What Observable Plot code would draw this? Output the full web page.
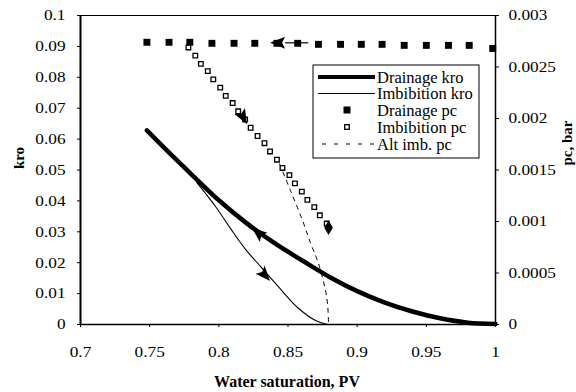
<!DOCTYPE html>
<html><head><meta charset="utf-8">
<script src="https://cdn.jsdelivr.net/npm/d3@7"></script>
<script src="https://cdn.jsdelivr.net/npm/@observablehq/plot@0.6"></script>
<style>
body{margin:0;background:#fff}
svg{display:block}
</style>
</head><body><div id="chart"></div>
<script>
// ---- data ----
const kroTicks = [0, 0.01, 0.02, 0.03, 0.04, 0.05, 0.06, 0.07, 0.08, 0.09, 0.1];
const kroTickLabels = ["0","0.01","0.02","0.03","0.04","0.05","0.06","0.07","0.08","0.09","0.1"];
const pcTicks = [0, 0.0005, 0.001, 0.0015, 0.002, 0.0025, 0.003];
const pcTickLabels = ["0","0.0005","0.001","0.0015","0.002","0.0025","0.003"];
const swTicks = [0.7, 0.75, 0.8, 0.85, 0.9, 0.95, 1];
const swTickLabels = ["0.7","0.75","0.8","0.85","0.9","0.95","1"];

const drainKroSw = [0.748, 0.76, 0.78, 0.80, 0.82, 0.84, 0.86, 0.88, 0.90, 0.92, 0.94, 0.96, 0.98, 1.0];
const drainKro   = [0.0628, 0.0574, 0.0487, 0.0402, 0.0328, 0.0264, 0.0208, 0.0154, 0.0108, 0.0071, 0.0042, 0.0020, 0.0006, 0.0002];

const imbKroSw = [0.784, 0.7976, 0.8084, 0.8193, 0.8301, 0.8424, 0.8569, 0.8699, 0.8786];
const imbKro   = [0.0460, 0.0382, 0.0311, 0.0243, 0.0188, 0.0126, 0.0055, 0.0013, 0.0];

const drainPcSw = [0.748, 0.764, 0.779, 0.795, 0.811, 0.826, 0.842, 0.857, 0.872, 0.888, 0.903, 0.918, 0.934, 0.950, 0.966, 0.981, 0.998];
const drainPc   = [0.00274, 0.00274, 0.00274, 0.00273, 0.00273, 0.00273, 0.00273, 0.00273, 0.00272, 0.00272, 0.00272, 0.00272, 0.00271, 0.00271, 0.00271, 0.00271, 0.00268];

const imbPcSw = [0.778, 0.783, 0.787, 0.792, 0.796, 0.801, 0.805, 0.810, 0.814, 0.819, 0.823, 0.828, 0.833, 0.837, 0.842, 0.846, 0.851, 0.855, 0.860, 0.864, 0.869, 0.873, 0.878];
const imbPc   = [0.00269, 0.00261, 0.00253, 0.00246, 0.00238, 0.00230, 0.00222, 0.00215, 0.00207, 0.00199, 0.00191, 0.00183, 0.00176, 0.00168, 0.00160, 0.00152, 0.00145, 0.00137, 0.00129, 0.00121, 0.00114, 0.00106, 0.00098];
const imbPcEndSw = [0.8793];
const imbPcEnd   = [0.00094];

const altPcSw = [0.8439, 0.8518, 0.8605, 0.8663, 0.8721, 0.8771, 0.8786, 0.8793];
const altPc   = [0.00156, 0.00130, 0.00101, 0.00079, 0.00059, 0.00033, 0.00020, 0.0];

// annotation arrows: tail -> tip, value axis "kro" or "pc"
const arrowAxis  = ["pc", "pc", "kro", "kro"];
const arrowTailSw = [0.865, 0.812, 0.8323, 0.8265];
const arrowTailV  = [0.00273, 0.00215, 0.0282, 0.0194];
const arrowTipSw  = [0.8374, 0.8207, 0.8243, 0.8374];
const arrowTipV   = [0.00273, 0.00194, 0.0311, 0.0139];
const arrowShaft  = [true, false, false, false];

const legendLabels = ["Drainage kro", "Imbibition kro", "Drainage pc", "Imbibition pc", "Alt imb. pc"];

// ---- build ----
const FONT = "Liberation Serif";
const K = 0.1 / 0.003; // pc -> kro units
const zip = (xs, ys, k = 1) => xs.map((x, i) => ({x, y: ys[i] * k}));
const drainKroData = zip(drainKroSw, drainKro);
const imbKroData = zip(imbKroSw, imbKro);
const drainPcData = zip(drainPcSw, drainPc, K);
const imbPcData = zip(imbPcSw, imbPc, K);
const imbPcEndData = zip(imbPcEndSw, imbPcEnd, K);
const altPcData = zip(altPcSw, altPc, K);
const kroTickData = kroTicks.map((v, i) => ({v, label: kroTickLabels[i]}));
const pcTickData = pcTicks.map((v, i) => ({v: v * K, label: pcTickLabels[i]}));
const swTickData = swTicks.map((v, i) => ({v, label: swTickLabels[i]}));

function arrowsMark(index, scales) {
  const g = d3.create("svg:g");
  if (!scales || !scales.x || !scales.y) return g.node();
  arrowAxis.forEach((ax, i) => {
    const k = ax === "pc" ? K : 1;
    const x1 = scales.x(arrowTailSw[i]), y1 = scales.y(arrowTailV[i] * k);
    const x2 = scales.x(arrowTipSw[i]), y2 = scales.y(arrowTipV[i] * k);
    const dx = x2 - x1, dy = y2 - y1, L = Math.hypot(dx, dy);
    const ux = dx / L, uy = dy / L, len = 15, hw = 6;
    const bx = x2 - ux * len, by = y2 - uy * len;
    if (arrowShaft[i]) g.append("line").attr("x1", x1).attr("y1", y1).attr("x2", bx).attr("y2", by).attr("stroke", "black").attr("stroke-width", 1.2);
    g.append("path")
      .attr("d", `M${x2},${y2}L${bx - uy * hw},${by + ux * hw}L${bx + ux * 3},${by + uy * 3}L${bx + uy * hw},${by - ux * hw}Z`)
      .attr("fill", "black");
  });
  return g.node();
}

const tickText = {fontFamily: FONT, fontSize: 15, fill: "black", fontVariant: "normal"};
const plot = Plot.plot({
  width: 576, height: 392,
  marginLeft: 80, marginRight: 81, marginTop: 15, marginBottom: 68,
  style: {fontFamily: FONT, fontSize: "15px", color: "black", background: "white"},
  x: {domain: [0.7, 1]},
  y: {domain: [0, 0.1]},
  marks: [
    Plot.frame({stroke: "black", strokeWidth: 1}),
    Plot.ruleX([0.7], {stroke: "black", strokeWidth: 2}),
    Plot.ruleX([1], {stroke: "black", strokeWidth: 1.5}),
    Plot.ruleY([0], {stroke: "black", strokeWidth: 1.5}),
    Plot.axisY({anchor: "left", ticks: kroTicks, text: null, tickSize: 3, label: null}),
    Plot.axisY({anchor: "right", ticks: pcTicks.map(v => v * K), text: null, tickSize: 3, label: null}),
    Plot.axisX({ticks: swTicks, text: null, tickSize: 3, label: null}),
    Plot.text(kroTickData, {x: () => 0.7, y: "v", text: "label", textAnchor: "end", dx: -15, ...tickText}),
    Plot.text(pcTickData, {x: () => 1, y: "v", text: "label", textAnchor: "start", dx: 13, ...tickText}),
    Plot.text(swTickData, {x: "v", y: () => 0, text: "label", dy: 28, ...tickText}),
    Plot.line(altPcData, {x: "x", y: "y", stroke: "black", strokeWidth: 1, strokeDasharray: "4,5", curve: "catmull-rom"}),
    Plot.line(drainKroData, {x: "x", y: "y", stroke: "black", strokeWidth: 4.5, curve: "catmull-rom"}),
    Plot.line(imbKroData, {x: "x", y: "y", stroke: "black", strokeWidth: 1.1, curve: "catmull-rom"}),
    Plot.dot(imbPcData, {x: "x", y: "y", symbol: "square", r: 2.6, stroke: "black", fill: "white", strokeWidth: 1.3}),
    Plot.dot(imbPcEndData, {x: "x", y: "y", symbol: "diamond", r: 3.6, fill: "black", stroke: "black"}),
    Plot.dot(drainPcData, {x: "x", y: "y", symbol: "square", r: 3.9, fill: "black", stroke: "none"}),
    arrowsMark
  ]
});

const svg = d3.select(plot);
svg.attr("font-family", FONT);
// axis titles
svg.append("text").attr("transform", "translate(24,158) rotate(-90)").attr("text-anchor", "middle")
  .attr("font-weight", "bold").attr("font-size", 15).text("kro");
svg.append("text").attr("transform", "translate(572,143) rotate(-90)").attr("text-anchor", "middle")
  .attr("font-weight", "bold").attr("font-size", 15).text("pc, bar");
svg.append("text").attr("x", 287).attr("y", 387).attr("text-anchor", "middle")
  .attr("font-weight", "bold").attr("font-size", 16).text("Water saturation, PV");

// legend
const lg = svg.append("g").attr("text-anchor", "start");
lg.append("rect").attr("x", 313).attr("y", 65).attr("width", 166).attr("height", 93)
  .attr("fill", "white").attr("stroke", "black").attr("stroke-width", 1);
const rows = [77, 93.5, 110, 127, 144];
legendLabels.forEach((lab, i) => {
  const y = rows[i];
  if (i === 0) lg.append("line").attr("x1", 318).attr("x2", 375).attr("y1", y).attr("y2", y).attr("stroke", "black").attr("stroke-width", 4);
  if (i === 1) lg.append("line").attr("x1", 318).attr("x2", 375).attr("y1", y).attr("y2", y).attr("stroke", "black").attr("stroke-width", 1.1);
  if (i === 2) lg.append("rect").attr("x", 347 - 3.5).attr("y", y - 3.5).attr("width", 7).attr("height", 7).attr("fill", "black");
  if (i === 3) lg.append("rect").attr("x", 347 - 2.3).attr("y", y - 2.3).attr("width", 4.6).attr("height", 4.6).attr("fill", "white").attr("stroke", "black").attr("stroke-width", 1.3);
  if (i === 4) lg.append("line").attr("x1", 322).attr("x2", 375).attr("y1", y).attr("y2", y).attr("stroke", "black").attr("stroke-width", 1).attr("stroke-dasharray", "4,8");
  lg.append("text").attr("x", 377).attr("y", y + 5.5).attr("text-anchor", "start").attr("font-size", 16.5).text(lab);
});
svg.selectAll("text").attr("font-family", FONT);

document.getElementById("chart").appendChild(plot);
// the reference's tick digits are drawn a little wider than Liberation Serif: stretch them
const tickSet = new Set([...kroTickLabels, ...pcTickLabels, ...swTickLabels]);
svg.selectAll("text").each(function() {
  if (!tickSet.has(this.textContent)) return;
  const w = this.getComputedTextLength();
  if (w > 0) {
    this.setAttribute("textLength", (w * 1.15).toFixed(1));
    this.setAttribute("lengthAdjust", "spacingAndGlyphs");
  }
});
</script>
</body></html>
